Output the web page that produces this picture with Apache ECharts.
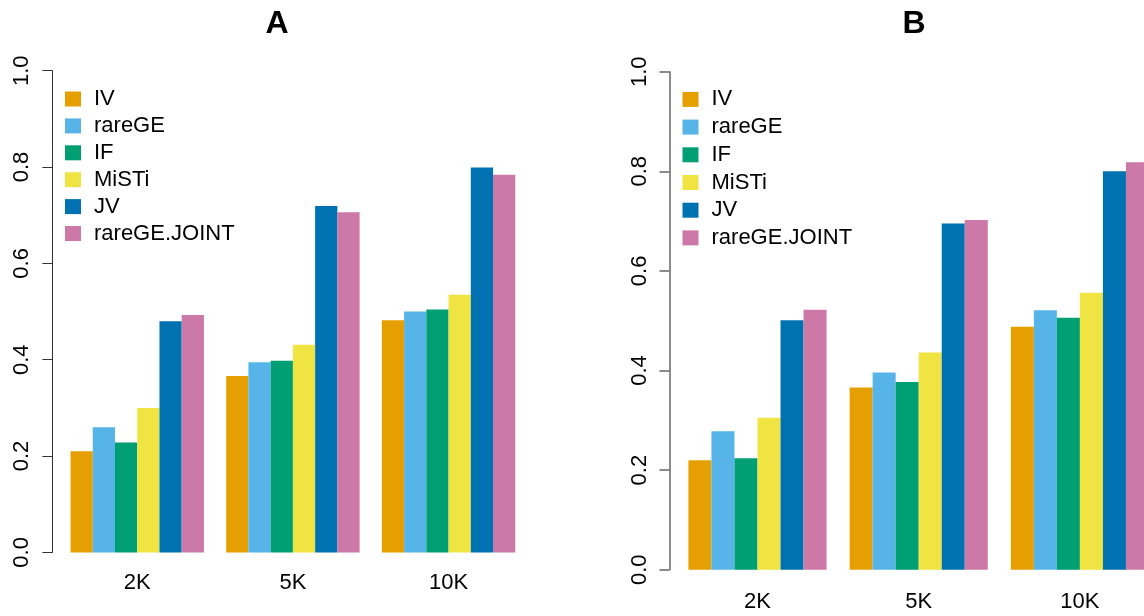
<!DOCTYPE html>
<html>
<head>
<meta charset="utf-8">
<script src="https://cdn.jsdelivr.net/npm/echarts@6/dist/echarts.min.js"></script>
<style>html,body{margin:0;padding:0;background:#fff;overflow:hidden;width:1144px;height:616px;}#chart{width:1224px;height:616px;}</style>
</head>
<body>
<div id="chart"></div>
<script>
const categories = ['2K', '5K', '10K'];
const methods = ['IV', 'rareGE', 'IF', 'MiSTi', 'JV', 'rareGE.JOINT'];
const colors = ['#E69F00', '#56B4E9', '#009E73', '#F0E442', '#0072B2', '#CC79A7'];
const yTicks = [0, 0.2, 0.4, 0.6, 0.8, 1.0];

// Panel A
const A_IV = [0.210, 0.366, 0.482];
const A_rareGE = [0.260, 0.395, 0.500];
const A_IF = [0.228, 0.398, 0.504];
const A_MiSTi = [0.300, 0.431, 0.535];
const A_JV = [0.480, 0.719, 0.799];
const A_JOINT = [0.493, 0.706, 0.784];

// Panel B
const B_IV = [0.220, 0.366, 0.488];
const B_rareGE = [0.278, 0.396, 0.521];
const B_IF = [0.224, 0.377, 0.506];
const B_MiSTi = [0.305, 0.436, 0.556];
const B_JV = [0.501, 0.695, 0.800];
const B_JOINT = [0.522, 0.702, 0.818];

const panelA = [A_IV, A_rareGE, A_IF, A_MiSTi, A_JV, A_JOINT];
const panelB = [B_IV, B_rareGE, B_IF, B_MiSTi, B_JV, B_JOINT];

const FONT = '"Liberation Sans", Arial, Helvetica, sans-serif';

function yAxisCfg(gridIndex, offset, lineColor, lineWidth, margin) {
  return {
    type: 'value', gridIndex: gridIndex, min: 0, max: 1, interval: 0.2,
    offset: offset,
    axisLine: { show: true, lineStyle: { color: lineColor, width: lineWidth } },
    axisTick: { show: true, length: 10, lineStyle: { color: lineColor, width: lineWidth } },
    splitLine: { show: false },
    axisLabel: {
      rotate: 90, margin: margin, color: '#000', fontSize: 22, fontFamily: FONT,
      formatter: function (v) { return v.toFixed(1); }
    }
  };
}
function xAxisCfg(gridIndex, margin) {
  return {
    type: 'category', gridIndex: gridIndex, data: categories,
    axisLine: { show: false }, axisTick: { show: false },
    axisLabel: { margin: margin, color: '#000', fontSize: 22, fontFamily: FONT, interval: 0 }
  };
}
function seriesFor(panel, idx) {
  return panel.map(function (vals, i) {
    return {
      type: 'bar', name: methods[i], xAxisIndex: idx, yAxisIndex: idx,
      data: vals, barGap: '0%', barCategoryGap: '14.3%',
      itemStyle: { color: colors[i] },
      silent: true
    };
  });
}
function legendCfg(left, top, gap) {
  return {
    orient: 'vertical', left: left, top: top, padding: 0, itemWidth: 16, itemHeight: 15, itemGap: gap,
    icon: 'rect', data: methods, selectedMode: false,
    textStyle: { fontSize: 22, lineHeight: 22, color: '#000', fontFamily: FONT, padding: [0, 0, 0, 8] }
  };
}

const chart = echarts.init(document.getElementById('chart'), null, { renderer: 'canvas' });
chart.setOption({
  animation: false,
  backgroundColor: '#fff',
  color: colors,
  title: [
    { text: 'A', left: 277, top: 8, padding: 0, textAlign: 'center', textStyle: { fontSize: 32, fontWeight: 'bold', color: '#000', fontFamily: FONT } },
    { text: 'B', left: 914, top: 8, padding: 0, textAlign: 'center', textStyle: { fontSize: 32, fontWeight: 'bold', color: '#000', fontFamily: FONT } }
  ],
  legend: [legendCfg(65, 88, 4.9), legendCfg(682.5, 88.4, 5.7)],
  grid: [
    { left: 59.4, top: 70.7, width: 467, height: 481.7, containLabel: false },
    { left: 676.9, top: 71.7, width: 483.6, height: 498, containLabel: false }
  ],
  xAxis: [xAxisCfg(0, 20), xAxisCfg(1, 21)],
  yAxis: [yAxisCfg(0, 7, '#333', 1, 19), yAxisCfg(1, 7.4, '#666', 1.5, 19)],
  series: seriesFor(panelA, 0).concat(seriesFor(panelB, 1))
});
</script>
</body>
</html>
